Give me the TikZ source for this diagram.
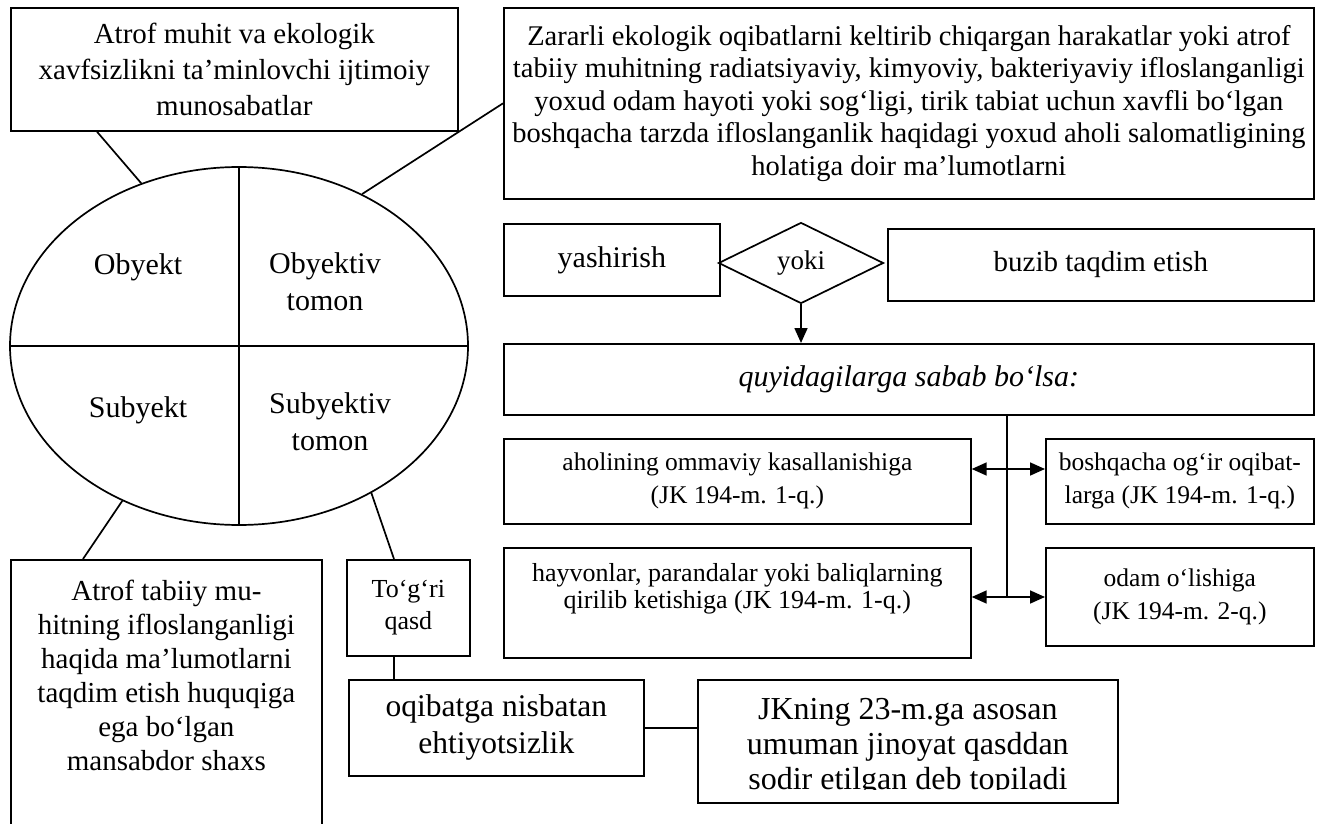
\documentclass[tikz,border=0pt]{standalone}
\usepackage{fontspec}
\setmainfont{Liberation Serif}
\usetikzlibrary{arrows.meta,positioning,shapes.geometric,calc}

\begin{document}
\begin{tikzpicture}[
  x=1pt, y=-1pt,
  line width=1.7pt,
  box/.style={draw, anchor=north west, align=center, inner sep=0pt},
  txt/.style={align=center, inner sep=0pt},
  huge/.style={font=\fontsize{32}{35}\selectfont},
  big/.style={font=\fontsize{30}{37}\selectfont},
  norm/.style={font=\fontsize{29}{36}\selectfont},
  mid/.style={font=\fontsize{28.5}{32.5}\selectfont},
  small/.style={font=\fontsize{25.5}{33}\selectfont},
  arrow/.style={-{Triangle[length=15pt,width=13pt]}},
  both/.style={{Triangle[length=15pt,width=13pt]}-{Triangle[length=15pt,width=13pt]}}
]
\useasboundingbox (0,0) rectangle (1320,824);

% elements of the crime
\node[draw, ellipse, minimum width=458pt, minimum height=358pt, inner sep=0pt] (ell) at (239,346) {};
\draw (ell.north) -- (ell.south);
\draw (ell.west) -- (ell.east);
\node[txt, big] (obj) at (138,267) {Obyekt};
\node[txt, big] (objt) at (325,282) {Obyektiv\\tomon};
\node[txt, big] (sub) at (138,410) {Subyekt};
\node[txt, big] (subt) at (330,422) {Subyektiv\\tomon};

\node[box, norm, minimum width=447pt, minimum height=123pt] (rel) at (10,7)
  {Atrof muhit va ekologik\\xavfsizlikni ta’minlovchi ijtimoiy\\munosabatlar};
\node[box, mid, minimum width=810pt, minimum height=191pt] (zr) at (503,7)
  {Zararli ekologik oqibatlarni keltirib chiqargan harakatlar yoki atrof\\
   tabiiy muhitning radiatsiyaviy, kimyoviy, bakteriyaviy ifloslanganligi\\
   yoxud odam hayoti yoki sog‘ligi, tirik tabiat uchun xavfli bo‘lgan\\
   boshqacha tarzda ifloslanganlik haqidagi yoxud aholi salomatligining\\
   holatiga doir ma’lumotlarni};

% actions
\node[box, big, minimum width=216pt, minimum height=72pt] (hide) at (503,223) {yashirish};
\node[draw, diamond, font=\fontsize{27}{30}\selectfont, inner sep=0pt, minimum width=165pt, minimum height=81pt] (dia) at (801,263) {\raisebox{-4pt}{yoki}};
\node[box, norm, minimum width=426pt, minimum height=72pt] (dist) at (887,228) {buzib taqdim etish};
\node[box, minimum width=810pt, minimum height=71pt, font=\fontsize{30}{37}\selectfont\itshape] (quy) at (503,343)
  {quyidagilarga sabab bo‘lsa:};

% consequences
\node[box, small, minimum width=467pt, minimum height=85pt] (ah) at (503,438)
  {aholining ommaviy kasallanishiga\\(JK 194-m. 1-q.)};
\node[box, small, minimum width=268pt, minimum height=85pt] (bo) at (1045,438)
  {boshqacha og‘ir oqibat-\\larga (JK 194-m. 1-q.)};
\node[box, minimum width=467pt, minimum height=110pt] (hv) at (503,547) {};
\node[txt, anchor=north, font=\fontsize{26}{27}\selectfont] (hvtxt) at ($(hv.north)+(0,16)$)
  {hayvonlar, parandalar yoki baliqlarning\\qirilib ketishiga (JK 194-m. 1-q.)};
\node[box, small, minimum width=268pt, minimum height=98pt] (od) at (1045,547)
  {odam o‘lishiga\\(JK 194-m. 2-q.)};

% subject and guilt
\node[box, minimum width=311pt, minimum height=290pt] (sh) at (10,559) {};
\node[txt, anchor=north, font=\fontsize{29}{34}\selectfont] (shtxt) at ($(sh.north)+(0,20)$)
  {Atrof tabiiy mu-\\hitning ifloslanganligi\\haqida ma’lumotlarni\\taqdim etish huquqiga\\ega bo‘lgan\\mansabdor shaxs};
\node[box, minimum width=123pt, minimum height=96pt, font=\fontsize{26}{32}\selectfont] (tq) at (346,559) {To‘g‘ri\\qasd};
\node[box, font=\fontsize{31.5}{37}\selectfont, minimum width=295pt, minimum height=96pt] (oq) at (348,679)
  {oqibatga nisbatan\\ehtiyotsizlik};
\node[box, minimum width=420pt, minimum height=123pt] (jk) at (697,679) {};
\begin{scope}
  \clip (697,679) rectangle (1117,789);
  \node[txt, huge] (jktxt) at ($(jk.center)+(0,6)$)
    {JKning 23-m.ga asosan\\umuman jinoyat qasddan\\sodir etilgan deb topiladi};
\end{scope}

% links
\draw (rel.south west) ++(87,0) -- (ell.121);
\draw (zr.west) -- (ell.51);
\draw (sh.north west) ++(73,0) -- (ell.233);
\draw (tq.north west) ++(48,0) -- (ell.312);
\draw (tq.south west) ++(48,0) coordinate (tqs) -- (tqs |- oq.north);
\draw (oq.east) -- (oq.east -| jk.west);
\draw[arrow] (dia.south) -- (dia.south |- quy.north);

\coordinate (j1) at (1007,469);
\coordinate (j2) at (1007,597);
\draw (j2 |- quy.south) -- (j2);
\draw[both] (j1 -| ah.east) -- (j1 -| bo.west);
\draw[both] (j2 -| hv.east) -- (j2 -| od.west);
\end{tikzpicture}
\end{document}
